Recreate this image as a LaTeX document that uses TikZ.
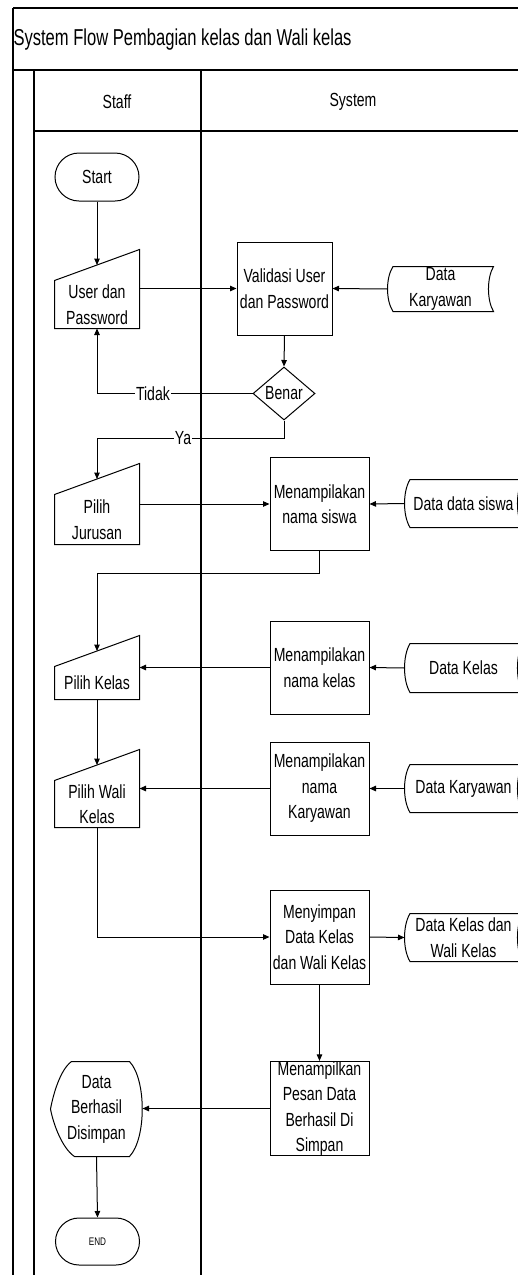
\documentclass[tikz,border=0pt]{standalone}
\usepackage{fontspec}
\setmainfont{Liberation Sans}[FakeStretch=0.74]
\newfontfamily\titlefont{Liberation Sans}[FakeStretch=0.72]
\usetikzlibrary{arrows.meta,calc,shapes.geometric,shapes.misc}
\newcommand\mishape[1]{%
  \draw[shp] (#1.south west) -- (#1.north west) -- ($(#1.north east)+(0,-31)$) -- (#1.south east) -- cycle;
  \coordinate (#1-top) at ($(#1.north)+(0,-15.5)$);}
\newcommand\stshape[1]{%
  \draw[shp] ($(#1.north west)+(5.5,0)$) -- (#1.north east)
    .. controls ($(#1.north east)!0.25!(#1.south east)+(-6.7,0)$) and ($(#1.north east)!0.75!(#1.south east)+(-6.7,0)$) .. (#1.south east)
    -- ($(#1.south west)+(5.5,0)$)
    .. controls ($(#1.south west)!0.25!(#1.north west)+(-1.8,0)$) and ($(#1.south west)!0.75!(#1.north west)+(-1.8,0)$) .. ($(#1.north west)+(5.5,0)$) -- cycle;}
\begin{document}
\begin{tikzpicture}[x=1pt,y=-1pt,line width=1pt,
  shp/.style={draw=black,line width=1pt},
  arr/.style={-{Triangle[length=6.5pt,width=5.5pt]},line width=1pt},
  txt/.style={font=\fontsize{19}{25.5}\selectfont,align=center,inner sep=0pt},
  proc/.style={txt,draw,minimum width=99,minimum height=93},
  minput/.style={txt,minimum width=84},
  stored/.style={txt,minimum width=117,minimum height=47},
  term/.style={txt,draw,rounded rectangle,minimum width=84,minimum height=48},
  lbl/.style={txt,fill=white,inner sep=1pt},
  lane/.style={line width=1.1pt}]
\path[use as bounding box] (0,0) rectangle (518,1275);
\clip (0,0) rectangle (518,1275);
% frame and lanes
\draw[lane] (13,8) -- (522,8);
\draw[lane] (13,8) -- (13,1280);
\draw[line width=2pt] (13,70) -- (522,70);
\draw[lane] (34,70) -- (34,1280);
\draw[lane] (201,70) -- (201,1280);
\draw[lane] (34,131) -- (522,131);
\node[anchor=west,inner sep=0pt,font=\titlefont\fontsize{23}{27}\selectfont] (title) at (13,40) {System Flow Pembagian kelas dan Wali kelas};
\node[txt,font=\fontsize{19}{22}\selectfont] (staff) at (117,102) {Staff};
\node[txt,font=\fontsize{19}{22}\selectfont] (system) at (353,102) {System};
% nodes
\node[term] (start) at (97,177) {Start};
\node[minput,minimum height=47] (up) at (97,304.5) {User dan\\Password};
\mishape{up}
\node[proc,minimum width=95] (val) at (284.5,288.5) {Validasi User\\dan Password};
\node[stored,minimum width=105,minimum height=44] (dk1) at (440.5,289) {Data\\Karyawan};
\stshape{dk1}
\node[txt,draw,diamond,minimum width=62,minimum height=53] (benar) at (284,393.5) {\makebox[0pt]{Benar}};
\node[minput,minimum height=49] (pj) at (97,519.5) {Pilih\\Jurusan};
\mishape{pj}
\node[proc] (mns) at (319.5,504) {Menampilakan\\nama siswa};
\node[stored] (dds) at (463.5,503.5) {Data data siswa};
\stshape{dds}
\node[minput,minimum height=32] (pk) at (97,683) {Pilih Kelas};
\mishape{pk}
\node[proc] (mnk) at (319.5,667.5) {Menampilakan\\nama kelas};
\node[stored,minimum height=48] (dkl) at (463.5,668) {Data Kelas};
\stshape{dkl}
\node[minput,minimum height=46] (pw) at (97,804) {Pilih Wali\\Kelas};
\mishape{pw}
\node[proc] (mkar) at (319.5,788.5) {Menampilakan\\nama\\Karyawan};
\node[stored] (dk2) at (463.5,788.5) {Data Karyawan};
\stshape{dk2}
\node[proc,minimum height=94] (msim) at (319.5,937) {Menyimpan\\Data Kelas\\dan Wali Kelas};
\node[stored] (dkw) at (463.5,937.5) {Data Kelas dan\\Wali Kelas};
\stshape{dkw}
\node[proc] (pesan) at (319.5,1108.5) {Menampilkan\\Pesan Data\\Berhasil Di\\Simpan};
\node[txt,minimum width=91,minimum height=94] (disp) at (96.5,1109) {Data\\Berhasil\\Disimpan};
\draw[shp] ($(disp.north west)+(21,0)$) -- ($(disp.north east)+(-13,0)$)
  .. controls ($(disp.north east)+(4,18)$) and ($(disp.south east)+(4,-18)$) .. ($(disp.south east)+(-13,0)$)
  -- ($(disp.south west)+(24,0)$)
  .. controls ($(disp.south west)+(12,-8)$) and ($(disp.west)+(3,16)$) .. (disp.west)
  .. controls ($(disp.west)+(3,-16)$) and ($(disp.north west)+(10,8)$) .. ($(disp.north west)+(21,0)$) -- cycle;
\node[term,minimum height=47,font=\fontsize{11}{12}\selectfont] (end) at (97.5,1241.5) {END};
% connectors
\draw[arr] (start.south) -- (up-top);
\draw[arr] (val.west -| up.east) -- (val.west);
\draw[arr] (dk1.west) -- (val.east);
\draw[arr] (val.south) -- (benar.north);
\draw[arr] (benar.west) -| node[lbl,pos=0.32] (tidak) {Tidak} (up.south);
\draw[arr] (benar.south) -- ++(0,18) -| node[lbl,pos=0.27] (ya) {Ya} (pj-top);
\draw[arr] (mns.west -| pj.east) -- (mns.west);
\draw[arr] (dds.west) -- (mns.east);
\draw[arr] (mns.south) -- ++(0,22) -| (pk-top);
\draw[arr] (mnk.west) -- (mnk.west -| pk.east);
\draw[arr] (dkl.west) -- (mnk.east);
\draw[arr] (pk.south) -- (pw-top);
\draw[arr] (mkar.west) -- (mkar.west -| pw.east);
\draw[arr] (dk2.west) -- (mkar.east);
\draw[arr] (pw.south) |- (msim.west);
\draw[arr] (msim.east) -- (dkw.west);
\draw[arr] (msim.south) -- (pesan.north);
\draw[arr] (pesan.west) -- (pesan.west -| disp.east);
\draw[arr] (disp.south) -- (end.north);
\end{tikzpicture}
\end{document}
